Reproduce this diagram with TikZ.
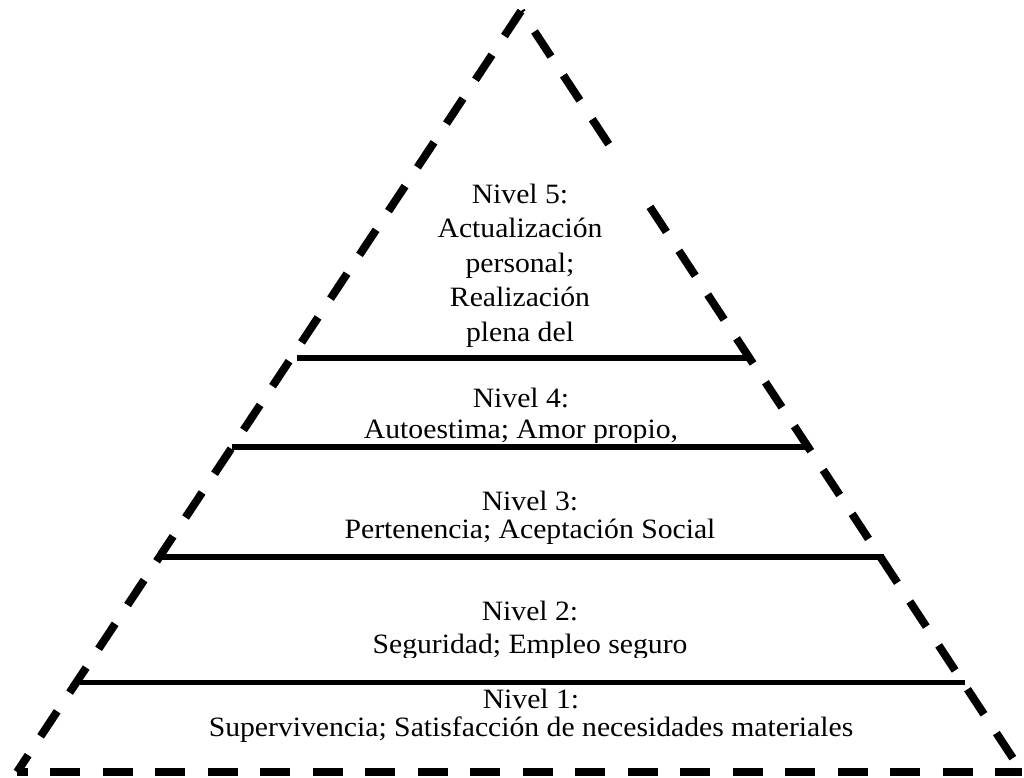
\documentclass[tikz,border=0pt]{standalone}
\usepackage{fontspec}
\setmainfont{Liberation Serif}[FakeStretch=1.06]
\begin{document}
\begin{tikzpicture}[x=1pt,y=-1pt,
  side/.style={line width=8pt, dash pattern=on 30pt off 22.5pt},
  tier/.style={line width=5.5pt},
  lbl/.style={anchor=base, inner sep=0pt, font=\fontsize{28}{34}\selectfont}]
\useasboundingbox (0,0) rectangle (1024,777);

% pyramid outline
\coordinate (apex) at (521,11);
\coordinate (bl) at (17,772);
\coordinate (br) at (1022,772);
\draw[side] (apex) -- (bl);
\draw[side, dash phase=28pt] (apex) -- (br);
\draw[side, dash phase=19.5pt] (bl) -- (br);

% text frame of the top level hides a piece of the right edge
\fill[white] (445,150) rectangle (646,200);

% level separators
\coordinate (t45l) at (297,358);   \coordinate (t45r) at (747,358);
\coordinate (t34l) at (232,447);   \coordinate (t34r) at (811,447);
\coordinate (t23l) at (160,557);   \coordinate (t23r) at (884,557);
\coordinate (t12l) at (80,682.5);  \coordinate (t12r) at (965,682.5);
\draw[tier] (t45l) -- (t45r);
\draw[tier] (t34l) -- (t34r);
\draw[tier] (t23l) -- (t23r);
\draw[tier] (t12l) -- (t12r);

% level 5
\node[lbl] (n5a) at (520,203)   {Nivel 5:};
\node[lbl] (n5b) at (520,237.5) {Actualización};
\node[lbl] (n5c) at (520,272)   {personal;};
\node[lbl] (n5d) at (520,306.5) {Realización};
\node[lbl] (n5e) at (520,341)   {plena del};

% level 4
\node[lbl] (n4a) at (521,407) {Nivel 4:};
\begin{scope}
  \clip (200,400) rectangle (840,442);
  \node[lbl] (n4b) at (521,438) {Autoestima; Amor propio,};
\end{scope}

% level 3
\node[lbl] (n3a) at (530,510) {Nivel 3:};
\node[lbl] (n3b) at (530,538) {Pertenencia; Aceptación Social};

% level 2
\node[lbl] (n2a) at (530,620) {Nivel 2:};
\begin{scope}
  \clip (150,620) rectangle (900,657);
  \node[lbl] (n2b) at (530,653) {Seguridad; Empleo seguro};
\end{scope}

% level 1
\node[lbl] (n1a) at (531,708) {Nivel 1:};
\node[lbl] (n1b) at (531,736) {Supervivencia; Satisfacción de necesidades materiales};
\end{tikzpicture}
\end{document}
